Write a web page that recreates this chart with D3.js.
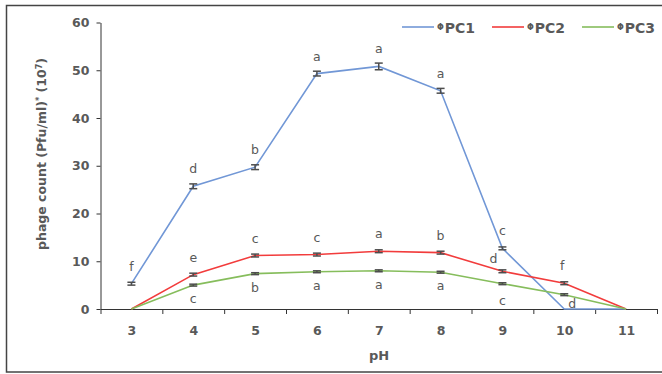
<!DOCTYPE html>
<html>
<head>
<meta charset="utf-8">
<script src="https://cdn.jsdelivr.net/npm/d3@7"></script>
<style>
  body { margin: 0; background: #fff; }
  text { font-family: "DejaVu Sans", Verdana, sans-serif; }
</style>
</head>
<body>
<svg id="chart" width="662" height="374"></svg>
<script>
const ph = [3, 4, 5, 6, 7, 8, 9, 10, 11]
const pc1 = [5.3, 25.7, 29.7, 49.3, 50.8, 45.7, 12.7, 0, 0]
const pc2 = [0, 7.2, 11.2, 11.4, 12.1, 11.8, 7.9, 5.4, 0]
const pc3 = [0, 5.0, 7.4, 7.8, 8.0, 7.7, 5.3, 3.0, 0]
const pc1Err = [0.3, 0.5, 0.5, 0.5, 0.7, 0.5, 0.3, 0, 0]
const pc2Err = [0, 0.3, 0.3, 0.3, 0.3, 0.3, 0.3, 0.3, 0]
const pc3Err = [0, 0.2, 0.2, 0.2, 0.2, 0.2, 0.2, 0.2, 0]
const pc1Letters = ["f", "d", "b", "a", "a", "a", "c", "", ""]
const pc2Letters = ["", "e", "c", "c", "a", "b", "d", "f", ""]
const pc3Letters = ["", "c", "b", "a", "a", "a", "c", "d", ""]
const yTicks = [0, 10, 20, 30, 40, 50, 60]

const series = [
  {name: "PC1", values: pc1, err: pc1Err, letters: pc1Letters, color: "#7197d6", side: "above"},
  {name: "PC2", values: pc2, err: pc2Err, letters: pc2Letters, color: "#f23c3c", side: "above"},
  {name: "PC3", values: pc3, err: pc3Err, letters: pc3Letters, color: "#86bd5c", side: "below"}
]

const svg = d3.select("#chart")
const textColor = "#595959"

// outer frame (cut off on the right like the source)
svg.append("rect")
  .attr("x", 6.5).attr("y", 5.5).attr("width", 700).attr("height", 366.5)
  .attr("fill", "none").attr("stroke", "#444").attr("stroke-width", 1.5)

const x = d3.scaleLinear().domain([2.5, 11.5]).range([100.5, 657])
const y = d3.scaleLinear().domain([0, 60]).range([309, 22.5])

// y axis
const yAxis = svg.append("g")
  .attr("transform", `translate(${x(2.5)},0)`)
  .call(d3.axisLeft(y).tickValues(yTicks).tickSize(4).tickSizeOuter(0).tickPadding(7))
yAxis.select(".domain").attr("stroke", "#333")
yAxis.selectAll(".tick line").attr("stroke", "#333")
yAxis.selectAll(".tick text")
  .attr("fill", textColor).style("font-size", "12.5px").style("font-weight", "bold")
  .style("font-family", "DejaVu Sans")

// x axis: ticks between categories, labels at categories
const xAxis = svg.append("g")
  .attr("transform", `translate(0,${y(0)})`)
  .call(d3.axisBottom(x).tickValues(d3.range(2.5, 12, 1)).tickFormat("").tickSize(5).tickSizeOuter(0))
xAxis.select(".domain").attr("stroke", "#333")
xAxis.selectAll(".tick line").attr("stroke", "#333")

const xLabels = svg.append("g")
  .attr("transform", `translate(0,${y(0)})`)
  .call(d3.axisBottom(x).tickValues(ph).tickSize(0).tickPadding(17))
xLabels.select(".domain").remove()
xLabels.selectAll(".tick text")
  .attr("fill", textColor).style("font-size", "12.5px").style("font-weight", "bold")
  .style("font-family", "DejaVu Sans")

// axis titles
svg.append("text")
  .attr("x", 379).attr("y", 360)
  .attr("text-anchor", "middle")
  .attr("fill", textColor).style("font-size", "13px").style("font-weight", "bold")
  .text("pH")

const yTitle = svg.append("text")
  .attr("transform", "translate(46,154) rotate(-90)")
  .attr("text-anchor", "middle")
  .attr("fill", textColor).style("font-size", "12.5px").style("font-weight", "bold")
yTitle.append("tspan").text("phage count (Pfu/ml)")
yTitle.append("tspan").attr("baseline-shift", "super").style("font-size", "8px").text("*")
yTitle.append("tspan").text(" (10")
yTitle.append("tspan").attr("baseline-shift", "super").style("font-size", "8px").text("7")
yTitle.append("tspan").text(")")

const line = d3.line()
  .x((d, i) => x(ph[i]))
  .y(d => y(d))

series.forEach(s => {
  svg.append("path")
    .datum(s.values)
    .attr("fill", "none")
    .attr("stroke", s.color)
    .attr("stroke-width", 1.6)
    .attr("d", line)

  // error bars
  const eb = svg.append("g").attr("stroke", "#4d4d4d").attr("stroke-width", 1.5)
  s.values.forEach((v, i) => {
    if (v === 0) return
    const cx = x(ph[i]), e = s.err[i]
    eb.append("line").attr("x1", cx).attr("x2", cx).attr("y1", y(v - e)).attr("y2", y(v + e))
    eb.append("line").attr("x1", cx - 4).attr("x2", cx + 4).attr("y1", y(v - e)).attr("y2", y(v - e))
    eb.append("line").attr("x1", cx - 4).attr("x2", cx + 4).attr("y1", y(v + e)).attr("y2", y(v + e))
  })
})

// significance letters
const nudge = {"PC2-9": [-9, 5], "PC2-10": [-2, 0], "PC3-10": [8, -5], "PC3-9": [0, 3]}
series.forEach(s => {
  s.letters.forEach((l, i) => {
    if (!l) return
    const n = nudge[s.name + "-" + ph[i]] || [0, 0]
    svg.append("text")
      .attr("x", x(ph[i]) + n[0])
      .attr("y", y(s.values[i]) + (s.side === "above" ? -13 : 18) + n[1])
      .attr("text-anchor", "middle")
      .attr("fill", textColor)
      .style("font-size", "12.5px")
      .text(l)
  })
})

// legend
const legend = svg.append("g").attr("transform", "translate(402,27)")
series.forEach((s, i) => {
  const g = legend.append("g").attr("transform", `translate(${i * 90},0)`)
  g.append("line").attr("x1", 0).attr("x2", 32).attr("y1", 0).attr("y2", 0)
    .attr("stroke", s.color).attr("stroke-width", 1.6)
  const t = g.append("text").attr("x", 35).attr("y", 5.5)
    .attr("fill", textColor).style("font-size", "14px").style("font-weight", "bold")
  t.append("tspan").attr("baseline-shift", "40%").style("font-size", "8px").text("Φ")
  t.append("tspan").attr("dx", 1).text(s.name)
})
</script>
</body>
</html>
